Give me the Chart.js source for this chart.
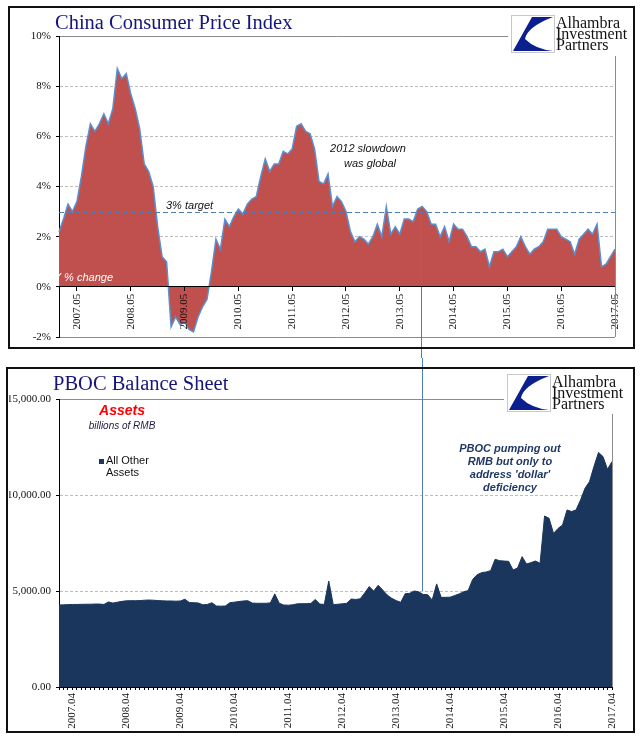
<!DOCTYPE html>
<html lang="en">
<head>
<meta charset="UTF-8">
<title>China CPI and PBOC Balance Sheet</title>
<style>
    * { margin: 0; padding: 0; box-sizing: border-box; }
    body { background: #fff; width: 641px; height: 741px; overflow: hidden; }
    canvas { display: block; }
</style>
</head>
<body>
<canvas id="cpiChart" width="641" height="358"></canvas>
<canvas id="pbocChart" width="641" height="383"></canvas>

<script src="https://cdn.jsdelivr.net/npm/chart.js"></script>
<script>
    // month labels "YYYY.MM" from a start month, count months
    function monthLabels(year, month, count) {
        const out = [];
        for (let i = 0; i < count; i++) {
            const m = (month - 1 + i) % 12 + 1;
            const yr = year + Math.floor((month - 1 + i) / 12);
            out.push(yr + '.' + String(m).padStart(2, '0'));
        }
        return out;
    }

    // China CPI, Y/Y % change, 2007.01 - 2017.05
    const cpiMonths = monthLabels(2007, 1, 125);
    const cpiValues = [
        2.2, 2.7, 3.3, 3.0, 3.4, 4.4, 5.6, 6.5, 6.2, 6.5, 6.9, 6.5,
        7.1, 8.7, 8.3, 8.5, 7.7, 7.1, 6.3, 4.9, 4.6, 4.0, 2.4, 1.2,
        1.0, -1.6, -1.2, -1.5, -1.4, -1.7, -1.8, -1.2, -0.8, -0.5, 0.6, 1.9,
        1.5, 2.7, 2.4, 2.8, 3.1, 2.9, 3.3, 3.5, 3.6, 4.4, 5.1, 4.6,
        4.9, 4.9, 5.4, 5.3, 5.5, 6.4, 6.5, 6.2, 6.1, 5.5, 4.2, 4.1,
        4.5, 3.2, 3.6, 3.4, 3.0, 2.2, 1.8, 2.0, 1.9, 1.7, 2.0, 2.5,
        2.0, 3.2, 2.1, 2.4, 2.1, 2.7, 2.7, 2.6, 3.1, 3.2, 3.0, 2.5,
        2.5, 2.0, 2.4, 1.8, 2.5, 2.3, 2.3, 2.0, 1.6, 1.6, 1.4, 1.5,
        0.8, 1.4, 1.4, 1.5, 1.2, 1.4, 1.6, 2.0, 1.6, 1.3, 1.5, 1.6,
        1.8, 2.3, 2.3, 2.3, 2.0, 1.9, 1.8, 1.3, 1.9, 2.1, 2.3, 2.1,
        2.5, 0.8, 0.9, 1.2, 1.5
    ];
    const cpiTickLabels = ['2007.05', '2008.05', '2009.05', '2010.05', '2011.05', '2012.05',
                           '2013.05', '2014.05', '2015.05', '2016.05', '2017.05'];
    const cpiTarget = 3;

    // PBOC all other assets, billions of RMB, 2007.01 - 2017.04
    const pbocMonths = monthLabels(2007, 1, 124);
    const pbocValues = [
        4270, 4280, 4290, 4300, 4300, 4305, 4310, 4310, 4320, 4320, 4300, 4430,
        4370, 4420, 4460, 4490, 4495, 4495, 4500, 4520, 4530, 4520, 4500, 4490,
        4480, 4480, 4470, 4480, 4570, 4400, 4390, 4375, 4280, 4300, 4390, 4220,
        4210, 4220, 4390, 4420, 4450, 4480, 4495, 4370, 4360, 4360, 4360, 4380,
        4850, 4360, 4270, 4260, 4280, 4330, 4340, 4340, 4350, 4560, 4320, 4300,
        5520, 4290, 4310, 4330, 4360, 4580, 4560, 4590, 4900, 5230, 5000, 5300,
        5050, 4790, 4620, 4500, 4410, 4860, 4880, 5000, 4960, 4820, 4810, 4530,
        5370, 4670, 4670, 4680, 4760, 4850, 4960, 5020, 5600, 5850, 5955, 5990,
        6060, 6650, 6580, 6560, 6545, 6095, 6200, 6790, 6405, 6480, 6560, 6440,
        8905, 8785, 8000, 8260, 8435, 9220, 9140, 9220, 9740, 10350, 10700, 11500,
        12220, 12000, 11340, 11740
    ];
    const pbocTickLabels = ['2007.04', '2008.04', '2009.04', '2010.04', '2011.04', '2012.04',
                            '2013.04', '2014.04', '2015.04', '2016.04', '2017.04'];

    // month where the two charts are linked
    const linkMonth = '2013.10';

    const serif = '"Liberation Serif", "Times New Roman", serif';
    const sans = '"Liberation Sans", Arial, sans-serif';
    const tickFont = { family: serif, size: 11 };

    function drawLogo(ctx, x, y) {
        ctx.save();
        ctx.fillStyle = '#fff';
        ctx.fillRect(x - 3, y - 5, 632 - (x - 3), 45);
        ctx.strokeStyle = '#c8c8c8';
        ctx.lineWidth = 1;
        ctx.strokeRect(x + 0.5, y + 0.5, 43, 37);
        ctx.fillStyle = '#0b1f8f';
        ctx.beginPath();
        ctx.moveTo(x + 21, y + 2);
        ctx.lineTo(x + 42, y + 2);
        ctx.quadraticCurveTo(x + 16, y + 12, x + 14, y + 24);
        ctx.quadraticCurveTo(x + 24, y + 34, x + 42, y + 36);
        ctx.lineTo(x + 2, y + 36);
        ctx.closePath();
        ctx.fill();
        ctx.fillStyle = '#111';
        ctx.font = '16px ' + serif;
        ctx.fillText('Alhambra', x + 45, y + 13);
        ctx.fillText('Investment', x + 45, y + 24);
        ctx.fillText('Partners', x + 45, y + 35);
        ctx.restore();
    }

    function drawFrame(ctx, x, y, w, h) {
        ctx.save();
        ctx.strokeStyle = '#111';
        ctx.lineWidth = 2;
        ctx.strokeRect(x, y, w, h);
        ctx.restore();
    }

    function drawTitle(ctx, text, x, y) {
        ctx.save();
        ctx.fillStyle = '#16167a';
        ctx.font = '20.5px ' + serif;
        ctx.fillText(text, x, y);
        ctx.restore();
    }

    // y grid styling: solid grey at the ends, dashed light grey inside
    function gridColor(min, max) {
        return c => {
            if (!c.tick) return '#000';
            if (c.tick.value === min) return min === 0 ? 'rgba(0,0,0,0)' : '#8c8c8c';
            if (c.tick.value === max) return '#8c8c8c';
            if (c.tick.value === 0) return 'rgba(0,0,0,0)';
            return '#bdbdbd';
        };
    }
    function gridDash(min, max) {
        return c => (c.tick && c.tick.value > min && c.tick.value < max) ? [3, 2] : [];
    }

    const cpiDecor = {
        id: 'cpiDecor',
        afterDatasetsDraw(chart) {
            const { ctx, chartArea: a, scales: { x, y } } = chart;
            const ty = Math.round(y.getPixelForValue(cpiTarget)) + 0.5;
            ctx.save();
            ctx.strokeStyle = '#4a7ebb';
            ctx.lineWidth = 1;
            ctx.setLineDash([5, 3]);
            ctx.beginPath();
            ctx.moveTo(a.left, ty);
            ctx.lineTo(a.right, ty);
            ctx.stroke();
            ctx.setLineDash([]);
            const cx = Math.round(x.getPixelForValue(cpiMonths.indexOf(linkMonth))) - 0.5;
            ctx.beginPath();
            ctx.moveTo(cx, ty);
            ctx.lineTo(cx, chart.height);
            ctx.stroke();

            // series label, cut off by the plot edge
            ctx.beginPath();
            ctx.rect(a.left, a.top, a.right - a.left, a.bottom - a.top);
            ctx.clip();
            ctx.fillStyle = '#fff';
            ctx.font = 'italic 11px ' + sans;
            ctx.textAlign = 'right';
            ctx.textBaseline = 'middle';
            ctx.fillText(chart.data.datasets[0].label, 113, 278);
            ctx.restore();
        },
        afterDraw(chart) {
            const { ctx, chartArea: a } = chart;
            drawFrame(ctx, 9, 7, 625, 341);
            drawTitle(ctx, 'China Consumer Price Index', 55, 29);
            drawLogo(ctx, 511, 15);
            ctx.save();
            ctx.strokeStyle = '#8c8c8c';
            ctx.lineWidth = 1;
            ctx.beginPath();
            ctx.moveTo(Math.round(a.right) + 0.5, 56);
            ctx.lineTo(Math.round(a.right) + 0.5, a.bottom);
            ctx.stroke();

            ctx.fillStyle = '#111';
            ctx.font = 'italic 11px ' + sans;
            ctx.textBaseline = 'middle';
            ctx.fillText('3% target', 166, 206);
            ctx.textAlign = 'center';
            ctx.fillText('2012 slowdown', 368, 149);
            ctx.fillText('was global', 370, 164);
            ctx.restore();
        }
    };

    const pbocDecor = {
        id: 'pbocDecor',
        afterDatasetsDraw(chart) {
            const { ctx, scales: { x, y } } = chart;
            const cx = Math.round(x.getPixelForValue(pbocMonths.indexOf(linkMonth))) - 0.5;
            ctx.save();
            ctx.strokeStyle = '#4a7ebb';
            ctx.lineWidth = 1;
            ctx.beginPath();
            ctx.moveTo(cx, 0);
            ctx.lineTo(cx, y.getPixelForValue(5000));
            ctx.stroke();
            ctx.restore();
        },
        afterDraw(chart) {
            const { ctx, chartArea: a } = chart;
            const ds = chart.data.datasets[0];
            drawFrame(ctx, 7, 10, 627, 364);
            drawTitle(ctx, 'PBOC Balance Sheet', 53, 32);
            drawLogo(ctx, 507, 16);
            ctx.save();
            ctx.strokeStyle = '#8c8c8c';
            ctx.lineWidth = 1;
            ctx.beginPath();
            ctx.moveTo(Math.round(a.right) + 0.5, 56);
            ctx.lineTo(Math.round(a.right) + 0.5, a.bottom);
            ctx.stroke();

            ctx.textAlign = 'center';
            ctx.textBaseline = 'middle';
            ctx.fillStyle = '#ff0000';
            ctx.font = 'italic bold 14px ' + sans;
            ctx.fillText('Assets', 122, 53);
            ctx.fillStyle = '#1a1a40';
            ctx.font = 'italic 10px ' + sans;
            ctx.fillText('billions of RMB', 122, 68);

            // legend
            ctx.fillStyle = ds.backgroundColor;
            ctx.fillRect(99, 101, 5, 5);
            ctx.fillStyle = '#111';
            ctx.font = '11px ' + sans;
            ctx.textAlign = 'left';
            ctx.fillText('All Other', 106, 103);
            ctx.fillText('Assets', 106, 115);

            ctx.textAlign = 'center';
            ctx.fillStyle = '#1f3864';
            ctx.font = 'italic bold 11px ' + sans;
            ctx.fillText('PBOC pumping out', 510, 91);
            ctx.fillText('RMB but only to', 510, 104);
            ctx.fillText("address 'dollar'", 510, 117);
            ctx.fillText('deficiency', 510, 130);
            ctx.restore();
        }
    };

    new Chart(document.getElementById('cpiChart'), {
        type: 'line',
        data: {
            labels: cpiMonths,
            datasets: [{
                label: 'Y/Y % change',
                data: cpiValues,
                fill: 'origin',
                backgroundColor: '#c0504d',
                borderColor: '#5b8fd0',
                borderWidth: 1.5,
                pointRadius: 0,
                tension: 0
            }]
        },
        options: {
            responsive: false,
            animation: false,
            events: [],
            layout: { padding: { left: 9, right: 26, top: 36, bottom: 21 } },
            plugins: { legend: { display: false }, tooltip: { enabled: false } },
            scales: {
                x: {
                    position: { y: 0 },
                    grid: {
                        drawOnChartArea: false,
                        z: 1,
                        tickLength: 4,
                        tickColor: c => cpiTickLabels.includes(cpiMonths[c.index]) ? '#000' : 'rgba(0,0,0,0)'
                    },
                    border: { color: '#000', width: 1, z: 1 },
                    ticks: {
                        z: 1,
                        autoSkip: false,
                        minRotation: 90,
                        maxRotation: 90,
                        padding: 3,
                        color: '#111',
                        font: tickFont,
                        callback: (v, i) => cpiTickLabels.includes(cpiMonths[i]) ? cpiMonths[i] : ''
                    }
                },
                y: {
                    min: -2,
                    max: 10,
                    afterFit: s => { s.width = 50; },
                    ticks: {
                        stepSize: 2,
                        padding: 5,
                        color: '#111',
                        font: tickFont,
                        callback: v => v + '%'
                    },
                    grid: { color: gridColor(-2, 10), tickLength: 3, tickColor: '#000' },
                    border: { color: '#000', width: 1, dash: gridDash(-2, 10) }
                }
            }
        },
        plugins: [cpiDecor]
    });

    new Chart(document.getElementById('pbocChart'), {
        type: 'line',
        data: {
            labels: pbocMonths,
            datasets: [{
                label: 'All Other Assets',
                data: pbocValues,
                fill: 'origin',
                backgroundColor: '#1b365d',
                borderColor: '#1b365d',
                borderWidth: 1,
                pointRadius: 0,
                tension: 0
            }]
        },
        options: {
            responsive: false,
            animation: false,
            events: [],
            layout: { padding: { left: 9, right: 29, top: 41, bottom: 0 } },
            plugins: { legend: { display: false }, tooltip: { enabled: false } },
            scales: {
                x: {
                    afterFit: s => { s.height = 54; },
                    grid: { drawOnChartArea: false, z: 1, tickLength: 3, tickColor: '#000' },
                    border: { color: '#000', width: 1, z: 1 },
                    ticks: {
                        autoSkip: false,
                        minRotation: 90,
                        maxRotation: 90,
                        padding: 3,
                        color: '#111',
                        font: tickFont,
                        callback: (v, i) => pbocTickLabels.includes(pbocMonths[i]) ? pbocMonths[i] : ''
                    }
                },
                y: {
                    min: 0,
                    max: 15000,
                    afterFit: s => { s.width = 50; },
                    ticks: {
                        stepSize: 5000,
                        padding: 5,
                        color: '#111',
                        font: tickFont,
                        callback: v => v.toLocaleString('en-US', { minimumFractionDigits: 2, maximumFractionDigits: 2 })
                    },
                    grid: { color: gridColor(0, 15000), tickLength: 3, tickColor: '#000' },
                    border: { color: '#000', width: 1, dash: gridDash(0, 15000) }
                }
            }
        },
        plugins: [pbocDecor]
    });
</script>
</body>
</html>
